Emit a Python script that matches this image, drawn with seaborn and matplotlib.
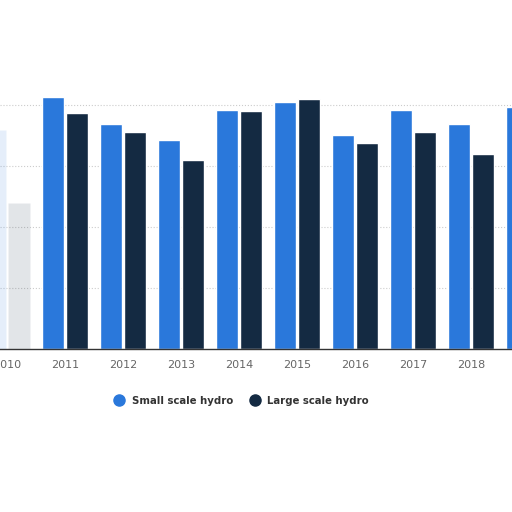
import matplotlib
matplotlib.use('Agg')
import matplotlib.pyplot as plt
import numpy as np
import pandas as pd
import seaborn as sns

years = ['2010', '2011', '2012', '2013', '2014', '2015', '2016', '2017', '2018', '2019']
small_hydro = [3.60, 4.13, 3.69, 3.43, 3.93, 4.05, 3.51, 3.92, 3.70, 3.97]
large_hydro = [2.39, 3.87, 3.57, 3.10, 3.90, 4.10, 3.38, 3.56, 3.21, 3.60]
series = ['Small scale hydro', 'Large scale hydro']
colors = ['#2a78db', '#142a42']

df = pd.DataFrame({
    'year': years * 2,
    'value': small_hydro + large_hydro,
    'type': [series[0]] * len(years) + [series[1]] * len(years),
})

sns.set_style('white')
fig = plt.figure(figsize=(5.12, 5.12), dpi=100)
ax = fig.add_axes([0.0, 0.318, 1.0, 0.506])

sns.barplot(data=df, x='year', y='value', hue='type', palette=colors,
            width=0.8, gap=0.05, saturation=1, ax=ax, legend=False)

# first year is washed out in the reference
for p in ax.patches:
    if p.get_x() + p.get_width() / 2 < 0.5:
        p.set_alpha(0.12)

ax.set_xlim(-7 / 58, 505 / 58)
ax.set_ylim(0, 4.25)
ax.set_yticks([1, 2, 3, 4])
ax.set_yticklabels([])
ax.yaxis.grid(True, linestyle=':', color='#cccccc', linewidth=0.8)
ax.set_axisbelow(True)
ax.set_xlabel('')
ax.set_ylabel('')
ax.tick_params(axis='x', colors='#666666', labelsize=8, length=0, pad=8)
ax.tick_params(axis='y', length=0)
for s in ['top', 'right', 'left']:
    ax.spines[s].set_visible(False)
ax.spines['bottom'].set_color('#333333')
ax.spines['bottom'].set_linewidth(1)

handles = [plt.Line2D([], [], marker='o', linestyle='', markersize=8,
                      markerfacecolor=c, markeredgecolor=c) for c in colors]
fig.legend(handles, series, loc='center', bbox_to_anchor=(0.467, 0.217),
           ncol=2, frameon=False, handletextpad=0.2,
           columnspacing=1.2, prop={'weight': 'semibold', 'size': 7.3})
for t in fig.legends[0].get_texts():
    t.set_color('#333333')

fig.savefig('out.png', dpi=100)
